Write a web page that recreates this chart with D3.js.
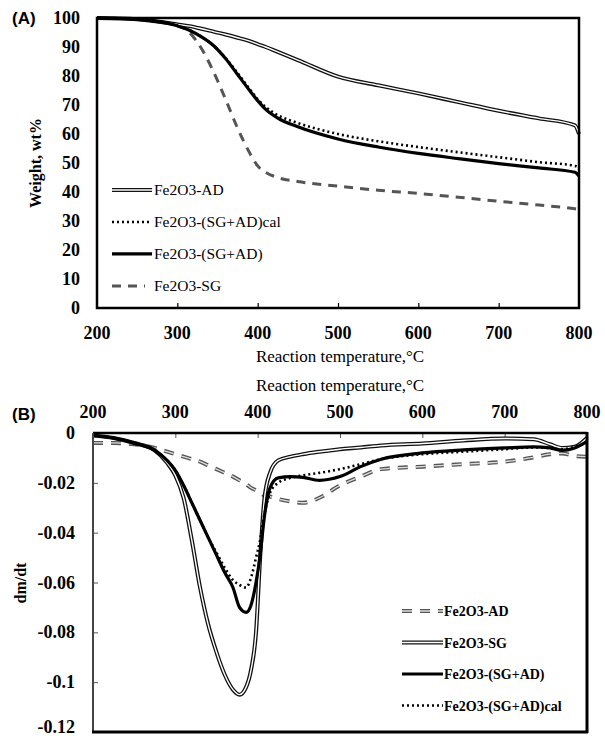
<!DOCTYPE html>
<html>
<head>
<meta charset="utf-8">
<script src="https://cdn.jsdelivr.net/npm/d3@7"></script>
<style>
body { margin: 0; background: #fff; }
</style>
</head>
<body>
<script>
// ---- panel A data (TGA, weight %) ----
var tempA = [200, 250, 300, 315, 330, 345, 360, 375, 390, 400, 410, 425, 450, 500, 550, 600, 650, 700, 750, 795, 800];
var wAD = [100, 99.6, 97.8, 97.2, 96.3, 95.3, 94.3, 93.2, 92, 91, 90, 88.3, 85.5, 79.8, 76.8, 74, 71, 68, 65.4, 63, 60];
var wCal = [100, 99.5, 97.3, 95.8, 93.5, 90.5, 86.2, 81, 75.5, 72, 69.3, 66.5, 63.8, 60, 57.5, 55.5, 53.7, 52, 50.3, 49, 48.5];
var wMix = [100, 99.5, 97.3, 95.8, 93.5, 90.5, 86, 80.5, 75, 71.5, 68.5, 65.5, 62.5, 58.3, 55.5, 53.3, 51.5, 49.8, 48.3, 46.8, 45.5];
var wSG = [100, 99.5, 97.5, 95, 89.5, 81.5, 72, 62, 53.5, 49, 46.8, 45, 43.6, 42, 40.6, 39.5, 38.2, 36.8, 35.5, 34.2, 34];
var ticksA_x = [200, 300, 400, 500, 600, 700, 800];
var ticksA_y = [0, 10, 20, 30, 40, 50, 60, 70, 80, 90, 100];

// ---- panel B data (DTG, dm/dt) ----
var tempB = [200, 225, 250, 275, 290, 300, 310, 320, 330, 340, 350, 360, 370, 378, 386, 392, 398, 403, 408, 415, 425, 440, 455, 475, 500, 525, 550, 600, 650, 700, 735, 755, 770, 785, 800];
var dAD = [-0.004, -0.004, -0.0045, -0.006, -0.0075, -0.0085, -0.0095, -0.0105, -0.0115, -0.013, -0.0145, -0.016, -0.0175, -0.019, -0.0205, -0.022, -0.023, -0.024, -0.025, -0.0255, -0.0265, -0.0275, -0.028, -0.026, -0.021, -0.0175, -0.0145, -0.0135, -0.0125, -0.0115, -0.0098, -0.0085, -0.0082, -0.0092, -0.0095];
var dSG = [-0.001, -0.002, -0.004, -0.007, -0.012, -0.017, -0.026, -0.043, -0.062, -0.077, -0.088, -0.097, -0.103, -0.105, -0.102, -0.095, -0.08, -0.05, -0.027, -0.016, -0.011, -0.0095, -0.0085, -0.0075, -0.0065, -0.0058, -0.005, -0.0042, -0.003, -0.0022, -0.0025, -0.0045, -0.006, -0.0055, -0.002];
var dMix = [-0.001, -0.002, -0.004, -0.007, -0.011, -0.015, -0.021, -0.028, -0.035, -0.042, -0.049, -0.056, -0.062, -0.07, -0.072, -0.069, -0.06, -0.049, -0.034, -0.022, -0.018, -0.0175, -0.0178, -0.019, -0.0175, -0.0135, -0.0105, -0.008, -0.0068, -0.006, -0.0056, -0.006, -0.007, -0.006, -0.0035];
var dCal = [-0.001, -0.002, -0.004, -0.007, -0.011, -0.015, -0.021, -0.028, -0.035, -0.042, -0.048, -0.054, -0.059, -0.061, -0.062, -0.058, -0.05, -0.043, -0.033, -0.024, -0.02, -0.018, -0.017, -0.016, -0.0145, -0.0125, -0.0105, -0.0085, -0.0075, -0.0065, -0.0058, -0.006, -0.0065, -0.0055, -0.004];
var ticksB_x = [200, 300, 400, 500, 600, 700, 800];
var ticksB_y = [0, -0.02, -0.04, -0.06, -0.08, -0.1, -0.12];

var SERIF = '"Liberation Serif", "DejaVu Serif", serif';
var SANS = '"Liberation Sans", "DejaVu Sans", sans-serif';

var width = 605, height = 738;
var svg = d3.select('body').append('svg').attr('width', width).attr('height', height)
    .style('font-family', SERIF);

// line styles
function drawSeries(g, pts, style, x, y) {
    var line = d3.line().x(function (d) { return x(d[0]); }).y(function (d) { return y(d[1]); })
        .curve(d3.curveMonotoneX);
    var path = line(pts);
    if (style === 'double') {
        g.append('path').attr('d', path).attr('fill', 'none').attr('stroke', '#111').attr('stroke-width', 4);
        g.append('path').attr('d', path).attr('fill', 'none').attr('stroke', '#fff').attr('stroke-width', 1.4);
    } else if (style === 'dotted') {
        g.append('path').attr('d', path).attr('fill', 'none').attr('stroke', '#000').attr('stroke-width', 2.6)
            .attr('stroke-dasharray', '2,3');
    } else if (style === 'solid') {
        g.append('path').attr('d', path).attr('fill', 'none').attr('stroke', '#000').attr('stroke-width', 3.2);
    } else if (style === 'dashA') {
        g.append('path').attr('d', path).attr('fill', 'none').attr('stroke', '#555').attr('stroke-width', 3)
            .attr('stroke-dasharray', '9,7');
    } else if (style === 'dashB') {
        g.append('path').attr('d', path).attr('fill', 'none').attr('stroke', '#555').attr('stroke-width', 4)
            .attr('stroke-dasharray', '10,8');
        g.append('path').attr('d', path).attr('fill', 'none').attr('stroke', '#ddd').attr('stroke-width', 1.3)
            .attr('stroke-dasharray', '10,8');
    }
}
function zip(xs, ys) { return xs.map(function (t, i) { return [t, ys[i]]; }); }

// ================= Panel A =================
var xA = d3.scaleLinear().domain([200, 800]).range([97, 579]);
var yA = d3.scaleLinear().domain([0, 100]).range([308, 18]);
var gA = svg.append('g');

// inward ticks on bottom
gA.append('g').attr('transform', 'translate(0,308)')
    .call(d3.axisTop(xA).tickValues(ticksA_x.slice(1, -1)).tickSize(5).tickFormat(''))
    .call(function (g) { g.select('.domain').remove(); g.selectAll('line').attr('stroke', '#000').attr('stroke-width', 1.2); });

gA.selectAll('.xl').data(ticksA_x).enter().append('text')
    .style('font-family', SERIF)
    .attr('x', function (d) { return xA(d); }).attr('y', 339)
    .attr('text-anchor', 'middle').attr('font-size', 18).attr('font-weight', 'bold').text(function (d) { return d; });
gA.selectAll('.yl').data(ticksA_y).enter().append('text')
    .style('font-family', SERIF)
    .attr('x', 80).attr('y', function (d) { return yA(d) + 6; })
    .attr('text-anchor', 'end').attr('font-size', 18).attr('font-weight', 'bold').text(function (d) { return d; });

drawSeries(gA, zip(tempA, wSG), 'dashA', xA, yA);
drawSeries(gA, zip(tempA, wAD), 'double', xA, yA);
drawSeries(gA, zip(tempA, wMix), 'solid', xA, yA);
drawSeries(gA, zip(tempA, wCal), 'dotted', xA, yA);

gA.append('rect').attr('x', 97).attr('y', 18).attr('width', 482).attr('height', 290)
    .attr('fill', 'none').attr('stroke', '#000').attr('stroke-width', 2.5);

gA.append('text').style('font-family', SERIF).attr('x', 340).attr('y', 362).attr('text-anchor', 'middle').attr('font-size', 17)
    .text('Reaction temperature,°C');
gA.append('text').style('font-family', SERIF).attr('transform', 'translate(41,163) rotate(-90)').attr('text-anchor', 'middle')
    .attr('font-size', 16).attr('font-weight', 'bold').text('Weight, wt%');
svg.append('text').attr('x', 12).attr('y', 24)
    .style('font-family', SANS)
    .attr('font-size', 17).attr('font-weight', 'bold').text('(A)');

// legend A
var legA = [['Fe2O3-AD', 'double'], ['Fe2O3-(SG+AD)cal', 'dotted'], ['Fe2O3-(SG+AD)', 'solid'], ['Fe2O3-SG', 'dashA']];
legA.forEach(function (d, i) {
    var yy = yA(40.7 - i * 11.03);
    var ly = d3.scaleLinear().domain([0, 1]).range([yy, yy]);
    var lx = d3.scaleLinear().domain([0, 1]).range([112, d[1] === 'dashA' ? 145 : 152]);
    drawSeries(gA, [[0, 0], [1, 0]], d[1], lx, ly);
    gA.append('text').style('font-family', SERIF).attr('x', 154).attr('y', yy + 5).attr('font-size', 15.5).text(d[0]);
});

// ================= Panel B =================
var xB = d3.scaleLinear().domain([200, 800]).range([93, 587]);
var yB = d3.scaleLinear().domain([-0.12, 0]).range([732, 433]);
var gB = svg.append('g');

gB.append('g').attr('transform', 'translate(0,433)')
    .call(d3.axisBottom(xB).tickValues(ticksB_x.slice(1, -1)).tickSize(5).tickFormat(''))
    .call(function (g) { g.select('.domain').remove(); g.selectAll('line').attr('stroke', '#555').attr('stroke-width', 1); });
gB.append('g').attr('transform', 'translate(93,0)')
    .call(d3.axisRight(yB).tickValues(ticksB_y.slice(1, -1)).tickSize(5).tickFormat(''))
    .call(function (g) { g.select('.domain').remove(); g.selectAll('line').attr('stroke', '#555').attr('stroke-width', 1); });

gB.selectAll('.xl').data(ticksB_x).enter().append('text')
    .style('font-family', SERIF)
    .attr('x', function (d) { return xB(d); }).attr('y', 418)
    .attr('text-anchor', 'middle').attr('font-size', 18).attr('font-weight', 'bold').text(function (d) { return d; });
gB.selectAll('.yl').data(ticksB_y).enter().append('text')
    .style('font-family', SERIF)
    .attr('x', 75).attr('y', function (d) { return Math.min(yB(d) + 6, 733); })
    .attr('text-anchor', 'end').attr('font-size', 18).attr('font-weight', 'bold')
    .text(function (d) { return d === 0 ? '0' : String(d); });

drawSeries(gB, zip(tempB, dAD), 'dashB', xB, yB);
drawSeries(gB, zip(tempB, dSG), 'double', xB, yB);
drawSeries(gB, zip(tempB, dMix), 'solid', xB, yB);
drawSeries(gB, zip(tempB, dCal), 'dotted', xB, yB);

// frame B
gB.append('line').attr('x1', 93).attr('x2', 587).attr('y1', 433).attr('y2', 433).attr('stroke', '#000').attr('stroke-width', 2.5);
gB.append('line').attr('x1', 93).attr('x2', 93).attr('y1', 433).attr('y2', 732).attr('stroke', '#444').attr('stroke-width', 2);
gB.append('line').attr('x1', 587).attr('x2', 587).attr('y1', 432).attr('y2', 733).attr('stroke', '#000').attr('stroke-width', 3);
gB.append('line').attr('x1', 92).attr('x2', 588).attr('y1', 732).attr('y2', 732).attr('stroke', '#000').attr('stroke-width', 3);

gB.append('text').style('font-family', SERIF).attr('x', 340).attr('y', 391).attr('text-anchor', 'middle').attr('font-size', 17)
    .text('Reaction temperature,°C');
gB.append('text').style('font-family', SERIF).attr('transform', 'translate(26,583) rotate(-90)').attr('text-anchor', 'middle')
    .attr('font-size', 16).attr('font-weight', 'bold').text('dm/dt');
svg.append('text').attr('x', 12).attr('y', 420)
    .style('font-family', SANS)
    .attr('font-size', 17).attr('font-weight', 'bold').text('(B)');

// legend B
var legB = [['Fe2O3-AD', 'dashB'], ['Fe2O3-SG', 'double'], ['Fe2O3-(SG+AD)', 'solid'], ['Fe2O3-(SG+AD)cal', 'dotted']];
legB.forEach(function (d, i) {
    var yy = 611 + i * 31.5;
    var ly = d3.scaleLinear().domain([0, 1]).range([yy, yy]);
    var lx = d3.scaleLinear().domain([0, 1]).range([402, 443]);
    drawSeries(gB, [[0, 0], [1, 0]], d[1], lx, ly);
    gB.append('text').style('font-family', SERIF).attr('x', 444).attr('y', yy + 5).attr('font-size', 14).attr('font-weight', 'bold').text(d[0]);
});
</script>
</body>
</html>
